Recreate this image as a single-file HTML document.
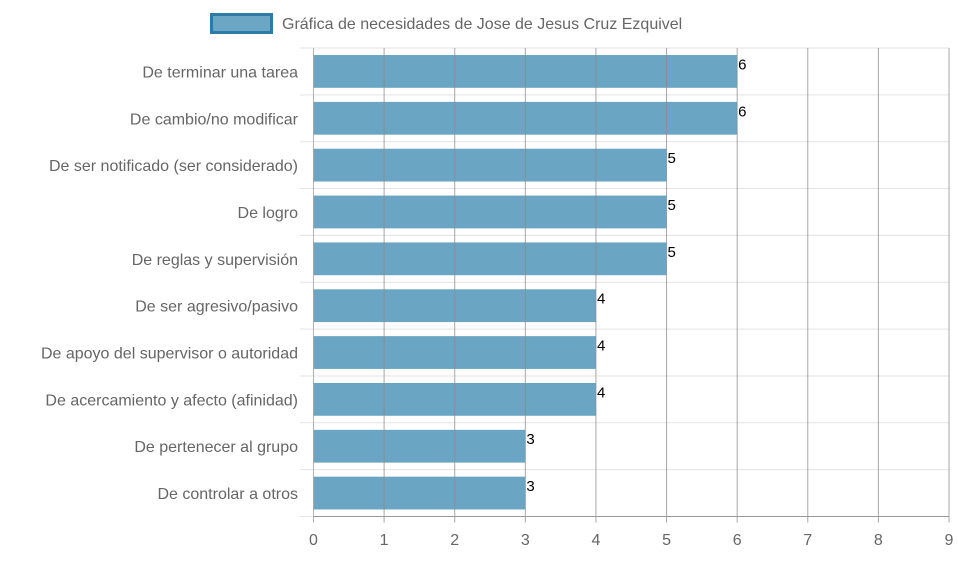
<!DOCTYPE html>
<html><head><meta charset="utf-8"><style>
body{margin:0;background:#fff;width:958px;height:558px;overflow:hidden}
svg text{font-family:"Liberation Sans",sans-serif}
</style></head><body>
<svg id="c" width="958" height="558">
<g>
<rect x="211.5" y="14.5" width="60" height="18" fill="#6ca6c5" stroke="#2e7ca5" stroke-width="3"/>
<text x="282" y="29" font-size="16" fill="#666">Gráfica de necesidades de Jose de Jesus Cruz Ezquivel</text>
</g>
</svg>
<script>
const categories=["De terminar una tarea","De cambio/no modificar","De ser notificado (ser considerado)","De logro","De reglas y supervisión","De ser agresivo/pasivo","De apoyo del supervisor o autoridad","De acercamiento y afecto (afinidad)","De pertenecer al grupo","De controlar a otros"];
const values=[6,6,5,5,5,4,4,4,3,3];
const ticks=[0,1,2,3,4,5,6,7,8,9];
const svg=document.getElementById('c');const NS='http://www.w3.org/2000/svg';
const L=313.5,R=949,T=48,B=516.5,max=9;
const x=v=>L+(R-L)*v/max;
const band=(B-T)/categories.length;
const y=i=>T+band*i;
function mk(t,a,txt){const e=document.createElementNS(NS,t);for(const k in a)e.setAttribute(k,a[k]);if(txt!==undefined)e.textContent=txt;svg.appendChild(e);return e;}
for(let i=0;i<=categories.length;i++){const g=mk('line',{x1:300,x2:R,y1:y(i),y2:y(i),stroke:'#e3e3e3'});

}
categories.forEach((c,i)=>{const b=mk('rect',{x:x(0),y:y(i)+band*0.15,width:x(values[i])-x(0),height:band*0.7,fill:'#6aa6c4'});


const t=mk('text',{x:298,y:y(i)+band/2+6,'text-anchor':'end','font-size':16,fill:'#666'},c);


const v=mk('text',{x:x(values[i])+1,y:y(i)+band/2-2,'font-size':15,fill:'#000','font-family':'Liberation Serif, serif'},values[i]);

});
ticks.forEach(t=>{const g=mk('line',{x1:x(t),x2:x(t),y1:T,y2:B+6,stroke:t===0?'#999':'#8a8a8a','stroke-opacity':0.75});


const l=mk('text',{x:x(t),y:545,'text-anchor':'middle','font-size':16,fill:'#666'},t);

});
const ax=mk('line',{x1:x(0),x2:R,y1:B,y2:B,stroke:'#999'});


</script>
</body></html>
